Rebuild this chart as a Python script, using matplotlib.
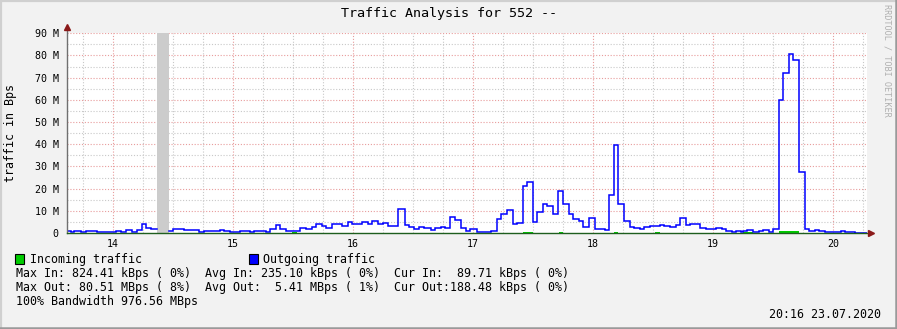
import numpy as np
import matplotlib
matplotlib.use("Agg")
import matplotlib.pyplot as plt
from matplotlib.lines import Line2D
from matplotlib.patches import Rectangle

plt.rcParams['font.family'] = ['DejaVu Sans Mono']

# ---------------- data ----------------
# time in minutes after 13:00, values in MBps
out_edges_min = [37, 38.85, 40.5, 43.85, 46.5, 51.85, 61.35, 63.85, 66.5, 69.5, 71.85, 74.5, 76.5, 79.15,
                 81.85, 87.85, 89.85, 95.5, 102.85, 105.5, 113.5, 115.5, 118.5, 123.5, 128.5, 130.5, 136.5,
                 138.5, 141.5, 143.5, 146.5, 153.5, 156.5, 159.5, 161.5, 164.5, 166.5, 169.5, 174.5, 177.5,
                 179.5, 184.5, 187.5, 189.5, 192.5, 195.15, 197.5, 202.5, 205.85, 207.85, 210.5, 212.85,
                 215.5, 218.85, 220.85, 223.85, 225.85, 228.5, 230.85, 233.85, 236.5, 238.5, 241.85, 243.85,
                 248.85, 251.85, 253.85, 256.85, 259.85, 261.85, 264.85, 266.85, 269.85, 271.85, 274.85,
                 276.85, 279.85, 282.5, 284.85, 287.85, 289.85, 292.85, 294.85, 297.85, 300.85, 305.85,
                 307.75, 310.65, 312.65, 315.65, 318.65, 320.65, 323.65, 325.65, 328.65, 333.65, 335.65,
                 338.65, 341.65, 343.65, 346.65, 348.65, 353.65, 356.65, 361.65, 364.65, 366.65, 369.65,
                 371.65, 373.75, 374.75, 376.85, 379.85, 382.85, 384.85, 387.85, 389.85, 392.85, 394.85,
                 397.85, 399.85, 402.85, 405.85, 407.85, 410.85, 412.85, 415.85, 423.85, 425.85, 430.85,
                 436.85]
out_vals_M = [0.9, 0.3, 0.9, 0.4, 0.9, 0.4, 0.9, 0.4, 1.3, 0.5, 1.5, 3.9, 2.4, 1.9,
              np.nan,
              0.9, 1.9, 1.5, 0.4, 0.9, 1.3, 0.9, 0.4, 0.9, 0.4, 0.9, 0.4, 1.8, 3.5, 1.8, 0.9,
              2.2, 1.8, 2.6, 3.9, 3.1, 2.2, 3.9, 3.1, 4.8, 3.9, 4.8, 3.9, 5.3, 3.9, 4.4, 3.1,
              10.7, 3.4, 2.6, 1.9, 2.9, 2.4, 1.2, 2.1, 2.6, 2.1, 7.1, 5.9, 2.1, 0.9,
              1.7, 0.6, 0.3, 0.8, 6.2, 8.4, 10.2, 3.9, 4.4, 21.1, 22.9, 4.8, 9.3, 13.0, 12.2, 8.4,
              18.8, 13.0, 8.4, 6.2, 5.3, 2.6, 6.6, 1.7, 1.3, 17.0, 39.6, 13.0, 5.4, 2.7, 2.1, 1.7,
              2.6, 3.0, 3.5, 3.0, 2.6, 3.5, 6.6, 3.5, 3.9, 2.3, 1.8, 2.1, 1.7, 0.9, 0.5,
              0.9, 0.45, 0.9, 1.2, 0.45, 0.9, 1.35, 0.45, 1.8, 60.0, 72.1, 80.5, 78.0, 27.7,
              1.8, 0.9, 1.35, 0.9, 0.45, 0.9, 0.45, 0.2]

in_edges_min = [37, 149.5, 152, 264.85, 269.85, 282.85, 284.85, 310.65, 312.65, 331, 333.65,
                374.75, 379.85, 392.85, 402.85, 436.85]
in_vals_M = [0.05, 0.5, 0.05, 0.5, 0.05, 0.5, 0.05, 0.5, 0.05, 0.5, 0.05, 0.5, 0.05, 0.75, 0.05]

x_tick_min = [60, 120, 180, 240, 300, 360, 420]
x_tick_labels = ['14', '15', '16', '17', '18', '19', '20']
y_tick_vals = [0, 10, 20, 30, 40, 50, 60, 70, 80, 90]
y_tick_labels = ['0', '10 M', '20 M', '30 M', '40 M', '50 M', '60 M', '70 M', '80 M', '90 M']

title = 'Traffic Analysis for 552 --'
legend_lines = [
    'Max In: 824.41 kBps ( 0%)  Avg In: 235.10 kBps ( 0%)  Cur In:  89.71 kBps ( 0%)',
    'Max Out: 80.51 MBps ( 8%)  Avg Out:  5.41 MBps ( 1%)  Cur Out:188.48 kBps ( 0%)',
    '100% Bandwidth 976.56 MBps',
]
stamp = '20:16 23.07.2020'

# ---------------- figure ----------------
W, H = 897, 329
fig = plt.figure(figsize=(W / 100, H / 100), dpi=100)
fig.patch.set_facecolor('#F2F2F2')

def fx(px):
    return px / W

def fy(py):
    return 1 - py / H

ax = fig.add_axes([fx(67), fy(233), fx(867) - fx(67), fy(33.3) - fy(233)])
ax.set_facecolor('white')
ax.set_xlim(37, 437)
ax.set_ylim(0, 90)
for s in ax.spines.values():
    s.set_visible(False)

# grid
minor_col = '#C8C8C8'
major_col = '#E89C9C'
ls = (0, (1, 1.6))
for v in np.arange(45, 437, 15):
    if v % 60 != 0:
        ax.axvline(v, color=minor_col, lw=0.8, ls=ls, zorder=0)
for v in np.arange(5, 91, 10):
    ax.axhline(v, color=minor_col, lw=0.8, ls=ls, zorder=0)
for v in x_tick_min:
    ax.axvline(v, color=major_col, lw=0.8, ls=ls, zorder=0.5)
for v in y_tick_vals[1:]:
    ax.axhline(v, color=major_col, lw=0.8, ls=ls, zorder=0.5)

# unknown data band
ov = np.array(out_vals_M, dtype=float)
oe = np.array(out_edges_min, dtype=float)
for i in np.where(np.isnan(ov))[0]:
    ax.axvspan(oe[i], oe[i + 1], color='#CCCCCC', lw=0, zorder=1)

# incoming area
ax.stairs(in_vals_M, in_edges_min, fill=True, color='#00CC00', zorder=2)

# outgoing line
xs = np.repeat(oe, 2)[1:-1]
ys = np.repeat(ov, 2)
ax.plot(xs, ys, color='#0000FF', lw=1.1, zorder=3, solid_joinstyle='miter')

# axes lines with arrows
ax.add_line(Line2D([0, 0], [0, 1.02], transform=ax.transAxes, color='#707070', lw=1.0, clip_on=False, zorder=4))
ax.add_line(Line2D([0, 1.003], [0, 0], transform=ax.transAxes, color='#1E5E1E', lw=1.0, clip_on=False, zorder=4))
ax.plot([0], [1.03], marker='^', ms=4, color='#8B1A1A', transform=ax.transAxes, clip_on=False, zorder=5)
ax.plot([1.005], [0], marker='>', ms=4, color='#8B1A1A', transform=ax.transAxes, clip_on=False, zorder=5)

# ticks
ax.set_xticks(x_tick_min)
ax.set_xticklabels(x_tick_labels)
ax.set_yticks(y_tick_vals)
ax.set_yticklabels(y_tick_labels)
ax.tick_params(axis='both', length=0, labelsize=7.2, colors='black')
ax.tick_params(axis='y', pad=6)
ax.tick_params(axis='x', pad=4)

# texts
fig.text(0.5, fy(13), title, ha='center', va='center', fontsize=9.6)
fig.text(fx(11), fy(133), 'traffic in Bps', rotation=90, ha='center', va='center', fontsize=8.4)
fig.text(fx(887), fy(4), 'RRDTOOL / TOBI OETIKER', rotation=270, ha='center', va='top',
         fontsize=6.1, color='#B0B0B0')

# legend boxes
fig.patches.append(Rectangle((fx(15), fy(264)), fx(9), 10 / H, transform=fig.transFigure,
                             facecolor='#00CC00', edgecolor='black', lw=0.8))
fig.patches.append(Rectangle((fx(248.5), fy(264)), fx(9), 10 / H, transform=fig.transFigure,
                             facecolor='#0000FF', edgecolor='black', lw=0.8))
fig.text(fx(30), fy(259), 'Incoming traffic', ha='left', va='center', fontsize=8.4)
fig.text(fx(263), fy(259), 'Outgoing traffic', ha='left', va='center', fontsize=8.4)
for i, line in enumerate(legend_lines):
    fig.text(fx(16), fy(273.3 + 14 * i), line, ha='left', va='center', fontsize=8.4)
fig.text(fx(881), fy(315), stamp, ha='right', va='center', fontsize=8.4)

# border
fig.add_artist(Line2D([0, 1], [fy(0.8), fy(0.8)], transform=fig.transFigure, color='#D0D0D0', lw=1.6))
fig.add_artist(Line2D([fx(0.8), fx(0.8)], [0, 1], transform=fig.transFigure, color='#D0D0D0', lw=1.6))
fig.add_artist(Line2D([0, 1], [fy(328), fy(328)], transform=fig.transFigure, color='#9A9A9A', lw=1.8))
fig.add_artist(Line2D([fx(896), fx(896)], [0, 1], transform=fig.transFigure, color='#9A9A9A', lw=1.8))

fig.savefig('out.png', dpi=100, facecolor=fig.get_facecolor())
